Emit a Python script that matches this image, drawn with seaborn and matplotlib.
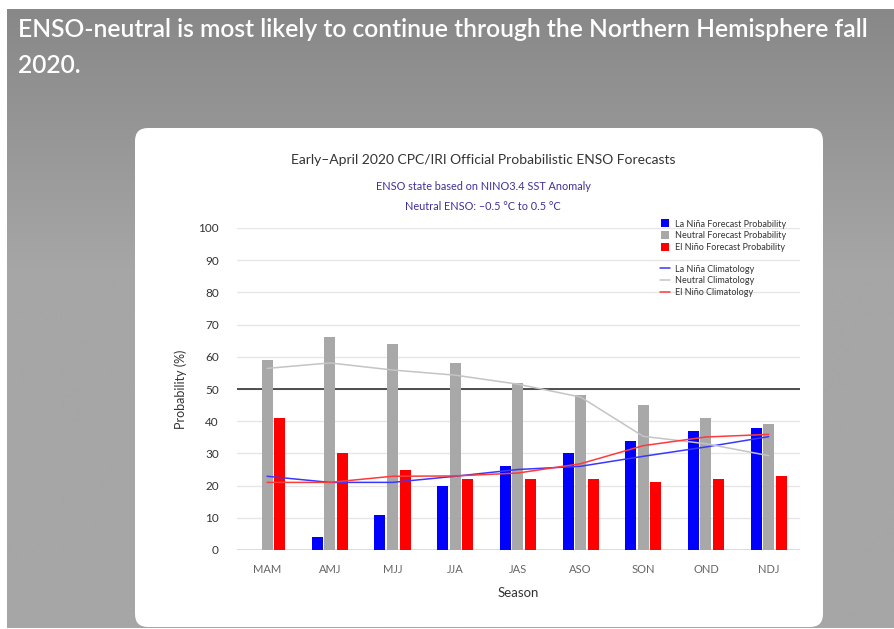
import numpy as np
import pandas as pd
import matplotlib
matplotlib.use("Agg")
import matplotlib.pyplot as plt
from matplotlib.patches import FancyBboxPatch
from matplotlib.lines import Line2D
import seaborn as sns

# ---------------- data ----------------
seasons = ["MAM", "AMJ", "MJJ", "JJA", "JAS", "ASO", "SON", "OND", "NDJ"]
lanina_prob = [0, 4, 11, 20, 26, 30, 34, 37, 38]
neutral_prob = [59, 66, 64, 58, 52, 48, 45, 41, 39]
elnino_prob = [41, 30, 25, 22, 22, 22, 21, 22, 23]

lanina_clim = [22.9, 21.0, 21.0, 22.9, 25.0, 26.0, 29.1, 32.0, 35.2]
neutral_clim = [56.4, 58.1, 55.9, 54.3, 51.5, 47.5, 35.3, 33.0, 29.3]
elnino_clim = [21.0, 21.0, 22.9, 23.0, 23.9, 26.8, 32.4, 35.1, 35.9]

bar_labels = ["La Niña Forecast Probability", "Neutral Forecast Probability",
              "El Niño Forecast Probability"]
clim_labels = ["La Niña Climatology", "Neutral Climatology", "El Niño Climatology"]
bar_colors = ["#0000ff", "#a8a8a8", "#ff0000"]
clim_colors = ["#3838ff", "#c4c4c4", "#ff3a3a"]

header_lines = ["ENSO-neutral is most likely to continue through the Northern Hemisphere fall",
                "2020."]
title = "Early\u2013April 2020 CPC/IRI Official Probabilistic ENSO Forecasts"
subtitles = ["ENSO state based on NINO3.4 SST Anomaly",
             "Neutral ENSO: \u20130.5 \u00b0C to 0.5 \u00b0C"]
yticks = [0, 10, 20, 30, 40, 50, 60, 70, 80, 90, 100]

# ---------------- figure ----------------
sns.set_theme(style="white")
plt.rcParams["font.family"] = ["Lato", "DejaVu Sans"]

W, H = 894, 629
fig = plt.figure(figsize=(W / 100, H / 100), dpi=100)
fig.patch.set_facecolor("white")

def pixel_axes(z):
    a = fig.add_axes([0, 0, 1, 1], zorder=z)
    a.set_xlim(0, W)
    a.set_ylim(H, 0)
    a.axis("off")
    a.patch.set_alpha(0)
    return a

# background (pixel coordinates)
bg = pixel_axes(0)
grad = np.concatenate([np.linspace(136, 166, 260), np.full(360, 166)]) / 255.0
grad_img = np.repeat(grad[:, None], 2, axis=1)
bg.imshow(np.dstack([grad_img] * 3), extent=[7, W, 628, 9], aspect="auto",
          interpolation="bilinear", zorder=0)
bg.add_patch(FancyBboxPatch((135, 128), 688, 499,
                            boxstyle="round,pad=0,rounding_size=13",
                            facecolor="white", edgecolor="none", zorder=1))
bg.set_xlim(0, W)
bg.set_ylim(H, 0)

bg.text(18, 37, header_lines[0], color="white", fontsize=17.7, fontweight="semibold",
        va="baseline", ha="left", zorder=3)
bg.text(18, 73, header_lines[1], color="white", fontsize=17.7, fontweight="semibold",
        va="baseline", ha="left", zorder=3)

bg.text(483, 160, title, color="#333333", fontsize=10, ha="center", va="center", zorder=3)
bg.text(483, 186, subtitles[0], color="#40309a", fontsize=7.8, ha="center", va="center", zorder=3)
bg.text(483, 206, subtitles[1], color="#40309a", fontsize=7.8, ha="center", va="center", zorder=3)

# ---------------- chart ----------------
left, right, top, bottom = 237, 800, 228, 550
ax = fig.add_axes([left / W, 1 - bottom / H, (right - left) / W, (bottom - top) / H], zorder=2)
ax.patch.set_alpha(0)

df = pd.DataFrame({
    "Season": seasons * 3,
    "Probability": lanina_prob + neutral_prob + elnino_prob,
    "Type": [bar_labels[0]] * len(seasons) + [bar_labels[1]] * len(seasons)
            + [bar_labels[2]] * len(seasons),
})
sns.barplot(data=df, x="Season", y="Probability", hue="Type", hue_order=bar_labels,
            order=seasons, palette=bar_colors, width=0.6, gap=0.12, saturation=1,
            ax=ax, legend=False, zorder=3, linewidth=0)

xpos = np.arange(len(seasons))
for vals, col in zip([lanina_clim, neutral_clim, elnino_clim], clim_colors):
    sns.lineplot(x=xpos, y=vals, color=col, lw=1.1, ax=ax, zorder=4)

ax.axhline(50, color="#222222", lw=1.1, zorder=2.5)
ax.set_xlim(-0.48, 8.5)
ax.set_ylim(0, 100)
ax.set_yticks(yticks)
ax.yaxis.grid(True, color="#e6e6e6", lw=1)
ax.set_axisbelow(True)
for s in ax.spines.values():
    s.set_visible(False)
ax.axhline(0, color="#ccd6eb", lw=1.2, zorder=2)
ax.tick_params(axis="y", length=0, pad=13, labelsize=8.5, labelcolor="#333333")
ax.tick_params(axis="x", length=0, pad=10, labelsize=8, labelcolor="#666666")
ax.set_xticks(xpos)
ax.set_xticklabels(seasons)
ax.set_xlabel("Season", fontsize=9.5, color="#333333", labelpad=9)
ax.set_ylabel("Probability (%)", fontsize=9, color="#333333", labelpad=8)

# ---------------- legends (overlay) ----------------
fg = pixel_axes(10)
bar_handles = [Line2D([], [], marker="s", ls="", markersize=5.5, color=c, markeredgewidth=0)
               for c in bar_colors]
leg1 = fg.legend(bar_handles, bar_labels, loc="upper left", bbox_to_anchor=(655, 215),
                 bbox_transform=fg.transData, frameon=False, fontsize=6.5,
                 handlelength=1.2, handletextpad=0.5, labelspacing=0.3, borderpad=0,
                 labelcolor="#333333")
fg.add_artist(leg1)
line_handles = [Line2D([], [], color=c, lw=1.1) for c in clim_colors]
leg2 = fg.legend(line_handles, clim_labels, loc="upper left", bbox_to_anchor=(655, 260),
                 bbox_transform=fg.transData, frameon=False, fontsize=6.5,
                 handlelength=1.2, handletextpad=0.5, labelspacing=0.3, borderpad=0,
                 labelcolor="#333333")

fig.savefig("out.png", dpi=100)
